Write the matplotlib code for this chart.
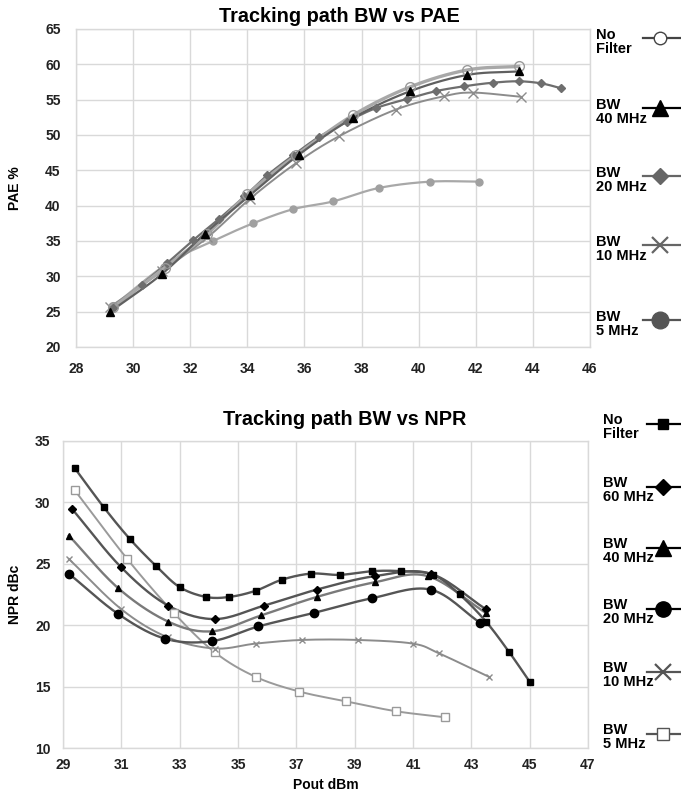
import numpy as np
import matplotlib
matplotlib.use("Agg")
import matplotlib.pyplot as plt

plt.rcParams['font.family'] = ['Liberation Sans', 'DejaVu Sans']
plt.rcParams['font.weight'] = 'bold'

# ---------------- PAE data ----------------
pae_nofilter_x = [29.3, 31.1, 32.6, 34.0, 35.7, 37.7, 39.7, 41.7, 43.5]
pae_nofilter_y = [25.6, 31.2, 36.0, 41.6, 47.1, 52.8, 56.8, 59.2, 59.7]
pae_40_x = [29.2, 31.0, 32.5, 34.1, 35.8, 37.7, 39.7, 41.7, 43.5]
pae_40_y = [25.0, 30.3, 36.0, 41.5, 47.2, 52.4, 56.2, 58.5, 59.0]
pae_20_x = [29.3, 30.3, 31.2, 32.1, 33.0, 33.9, 34.7, 35.6, 36.5, 37.5, 38.5, 39.6,
            40.6, 41.6, 42.6, 43.5, 44.3, 45.0]
pae_20_y = [25.5, 28.8, 31.9, 35.1, 38.1, 41.3, 44.3, 47.1, 49.7, 51.9, 53.8, 55.1,
            56.2, 56.9, 57.4, 57.6, 57.3, 56.6]
pae_10_x = [29.2, 31.0, 32.6, 34.1, 35.7, 37.2, 39.2, 40.9, 41.9, 43.6]
pae_10_y = [25.7, 30.7, 35.5, 41.0, 46.0, 49.8, 53.6, 55.5, 56.0, 55.4]
pae_5_x = [29.3, 31.2, 32.8, 34.2, 35.6, 37.0, 38.6, 40.4, 42.1]
pae_5_y = [25.8, 31.8, 35.0, 37.5, 39.5, 40.6, 42.5, 43.4, 43.4]

# ---------------- NPR data ----------------
npr_nofilter_x = [29.4, 30.4, 31.3, 32.2, 33.0, 33.9, 34.7, 35.6, 36.5, 37.5, 38.5,
                  39.6, 40.6, 41.7, 42.6, 43.5, 44.3, 45.0]
npr_nofilter_y = [32.8, 29.6, 27.0, 24.8, 23.1, 22.3, 22.3, 22.8, 23.7, 24.2, 24.1,
                  24.4, 24.4, 24.1, 22.5, 20.3, 17.8, 15.4]
npr_60_x = [29.3, 31.0, 32.6, 34.2, 35.9, 37.7, 39.7, 41.6, 43.5]
npr_60_y = [29.5, 24.7, 21.6, 20.5, 21.6, 22.9, 24.0, 24.2, 21.3]
npr_40_x = [29.2, 30.9, 32.6, 34.1, 35.8, 37.7, 39.7, 41.5, 43.5]
npr_40_y = [27.3, 23.0, 20.3, 19.5, 20.8, 22.3, 23.5, 24.0, 21.0]
npr_20_x = [29.2, 30.9, 32.5, 34.1, 35.7, 37.6, 39.6, 41.6, 43.3]
npr_20_y = [24.2, 20.9, 18.9, 18.7, 19.9, 21.0, 22.2, 22.9, 20.2]
npr_10_x = [29.2, 31.0, 32.6, 34.2, 35.6, 37.2, 39.1, 41.0, 41.9, 43.6]
npr_10_y = [25.4, 21.3, 19.0, 18.1, 18.5, 18.8, 18.8, 18.5, 17.7, 15.8]
npr_5_x = [29.4, 31.2, 32.8, 34.2, 35.6, 37.1, 38.7, 40.4, 42.1]
npr_5_y = [31.0, 25.4, 21.0, 17.8, 15.8, 14.6, 13.8, 13.0, 12.5]

pae_labels = ["No\nFilter", "BW\n40 MHz", "BW\n20 MHz", "BW\n10 MHz", "BW\n5 MHz"]
npr_labels = ["No\nFilter", "BW\n60 MHz", "BW\n40 MHz", "BW\n20 MHz", "BW\n10 MHz", "BW\n5 MHz"]


def smooth(x, y, n=16):
    """Catmull-Rom curve through the points (drawing only)."""
    x = np.asarray(x, float); y = np.asarray(y, float)
    if len(x) < 3:
        return x, y
    P = np.column_stack([x, y])
    P = np.vstack([P[0] - (P[1] - P[0]), P, P[-1] + (P[-1] - P[-2])])
    out = []
    t = np.linspace(0, 1, n, endpoint=False)[:, None]
    for i in range(1, len(P) - 2):
        p0, p1, p2, p3 = P[i - 1], P[i], P[i + 1], P[i + 2]
        c = 0.5 * ((2 * p1) + (-p0 + p2) * t + (2 * p0 - 5 * p1 + 4 * p2 - p3) * t ** 2
                   + (-p0 + 3 * p1 - 3 * p2 + p3) * t ** 3)
        out.append(c)
    out.append(P[-2][None, :])
    out = np.vstack(out)
    return out[:, 0], out[:, 1]


def draw(ax, x, y, lc, lw, **mk):
    sx, sy = smooth(x, y)
    ax.plot(sx, sy, color=lc, lw=lw, zorder=2)
    ax.plot(x, y, ls='none', zorder=3, **mk)


fig = plt.figure(figsize=(6.81, 7.92), dpi=100)
W, H = 681, 792

grid_c = '#d9d9d9'


def style(ax, xpad, ypad):
    ax.grid(True, color=grid_c, lw=1.0)
    ax.set_axisbelow(True)
    for s in ax.spines.values():
        s.set_color(grid_c)
        s.set_linewidth(1.0)
    ax.tick_params(axis='x', length=0, labelsize=10, pad=xpad, colors='#222222')
    ax.tick_params(axis='y', length=0, labelsize=10, pad=ypad, colors='#222222')
    for lab in ax.get_xticklabels() + ax.get_yticklabels():
        lab.set_fontweight('bold')


# ---- Top: PAE ----
ax1 = fig.add_axes([76 / W, 1 - 347 / H, (590 - 76) / W, (347 - 29) / H])
draw(ax1, pae_5_x, pae_5_y, '#a8a8a8', 1.6, marker='o', ms=5, color='#a0a0a0')
draw(ax1, pae_10_x, pae_10_y, '#8c8c8c', 1.4, marker='x', ms=7, mew=1.0, color='#8c8c8c')
draw(ax1, pae_20_x, pae_20_y, '#6e6e6e', 1.6, marker='D', ms=4, color='#6e6e6e')
draw(ax1, pae_nofilter_x, pae_nofilter_y, '#a8a8a8', 2.4, marker='o', ms=7, mfc='none',
     mec='#9a9a9a', mew=1.0)
draw(ax1, pae_40_x, pae_40_y, '#606060', 1.6, marker='^', ms=6, color='black')
ax1.set_xlim(28, 46)
ax1.set_ylim(20, 65)
ax1.set_xticks(np.arange(28, 47, 2))
ax1.set_yticks(np.arange(20, 66, 5))
style(ax1, 11, 11)
ax1.set_ylabel("PAE %", fontsize=10, fontweight='bold')
ax1.yaxis.label.set_va('center')
ax1.yaxis.set_label_coords((15 - 76) / 514, 0.5)
fig.text(339 / W, 1 - 16 / H, "Tracking path BW vs PAE", ha='center', va='center',
         fontsize=14.3, fontweight='bold')

# ---- Bottom: NPR ----
ax2 = fig.add_axes([63 / W, 1 - 748 / H, (588 - 63) / W, (748 - 441) / H])
draw(ax2, npr_5_x, npr_5_y, '#9a9a9a', 1.4, marker='s', ms=6, mfc='white',
     mec='#9a9a9a', mew=1.0)
draw(ax2, npr_10_x, npr_10_y, '#8c8c8c', 1.4, marker='x', ms=5, mew=1.0, color='#8c8c8c')
draw(ax2, npr_20_x, npr_20_y, '#555555', 1.7, marker='o', ms=6, color='black')
draw(ax2, npr_40_x, npr_40_y, '#7a7a7a', 1.7, marker='^', ms=5, color='black')
draw(ax2, npr_60_x, npr_60_y, '#555555', 1.7, marker='D', ms=4, color='black')
draw(ax2, npr_nofilter_x, npr_nofilter_y, '#555555', 1.7, marker='s', ms=5, color='black')
ax2.set_xlim(29, 47)
ax2.set_ylim(10, 35)
ax2.set_xticks(np.arange(29, 48, 2))
ax2.set_yticks(np.arange(10, 36, 5))
style(ax2, 7, 9)
ax2.set_ylabel("NPR dBc", fontsize=10, fontweight='bold')
ax2.yaxis.label.set_va('center')
ax2.yaxis.set_label_coords((15 - 63) / 525, 0.5)
ax2.set_xlabel("Pout dBm", fontsize=10, fontweight='bold')
ax2.xaxis.set_label_coords(0.5, -(785 - 748) / 307)
ax2.xaxis.label.set_va('center')
fig.text(345 / W, 1 - 419 / H, "Tracking path BW vs NPR", ha='center', va='center',
         fontsize=14.3, fontweight='bold')

# ---- Legends (drawn manually on the right) ----
lax = fig.add_axes([0, 0, 1, 1], facecolor='none')
lax.set_xlim(0, W)
lax.set_ylim(H, 0)
lax.axis('off')

pae_leg = [
    (38, dict(marker='o', ms=9, mfc='white', mec='#444444', mew=1.0), '#444444'),
    (108, dict(marker='^', ms=11, color='black'), 'black'),
    (176, dict(marker='D', ms=8, color='#666666'), '#666666'),
    (245, dict(marker='x', ms=12, mew=1.6, color='#666666'), '#666666'),
    (320, dict(marker='o', ms=12, color='#555555'), '#555555'),
]
for (yy, mk, lc), lab in zip(pae_leg, pae_labels):
    lax.plot([643, 681], [yy, yy], color=lc, lw=1.6)
    lax.plot([660], [yy], ls='none', **mk)
    lax.text(596, yy + 4, lab, ha='left', va='center', fontsize=10.5, fontweight='bold',
             linespacing=1.05)

npr_leg = [
    (424, dict(marker='s', ms=7, color='black'), 'black'),
    (487, dict(marker='D', ms=8, color='black'), 'black'),
    (548, dict(marker='^', ms=11, color='black'), 'black'),
    (609, dict(marker='o', ms=11, color='black'), 'black'),
    (672, dict(marker='x', ms=12, mew=1.6, color='#555555'), '#555555'),
    (734, dict(marker='s', ms=9, mfc='white', mec='#555555', mew=1.0), '#555555'),
]
for (yy, mk, lc), lab in zip(npr_leg, npr_labels):
    lax.plot([647, 681], [yy, yy], color=lc, lw=1.6)
    lax.plot([663], [yy], ls='none', **mk)
    lax.text(603, yy + 3, lab, ha='left', va='center', fontsize=10.5, fontweight='bold',
             linespacing=1.05)

fig.savefig("out.png", dpi=100)
